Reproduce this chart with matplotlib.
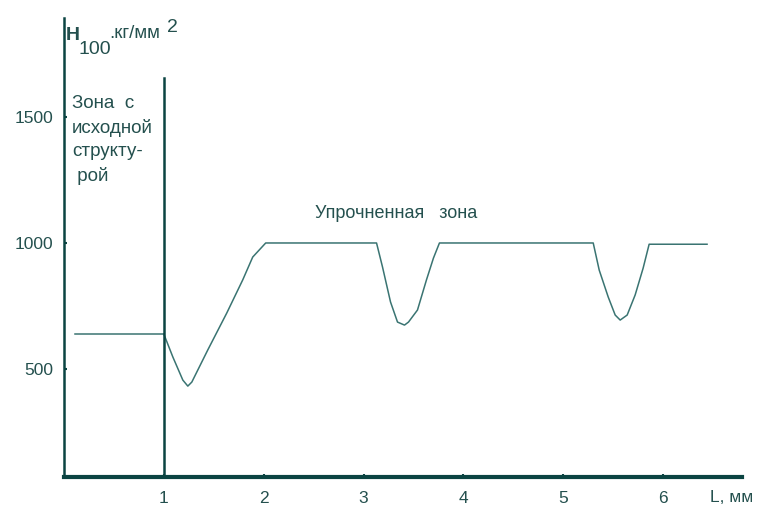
import matplotlib
matplotlib.use('Agg')
import matplotlib.pyplot as plt

# hardness profile across the treated layer
profile_x = [1.00, 1.09, 1.19, 1.24, 1.28, 1.36, 1.44, 1.63, 1.79, 1.89, 2.02,
             3.13, 3.19, 3.27, 3.34, 3.41, 3.45, 3.54, 3.63, 3.70, 3.76,
             5.30, 5.36, 5.45, 5.52, 5.57, 5.64, 5.72, 5.80, 5.86, 6.44]
profile_hv = [637, 546, 454, 430, 446, 510, 574, 721, 853, 944, 1000,
              1000, 904, 765, 685, 673, 685, 733, 853, 940, 1000,
              1000, 892, 785, 713, 693, 713, 793, 900, 995, 995]

# untreated zone level
base_x = [0.11, 1.0]
base_hv = [637, 637]

border_x = 1.0
border_top = 1657

x_ticks = [1, 2, 3, 4, 5, 6]
y_ticks = [500, 1000, 1500]

axis_col = '#0b4442'
line_col = '#3a7472'
text_col = '#24504e'
fam = ['Liberation Sans Narrow', 'Liberation Sans', 'DejaVu Sans']

W, H = 761, 508
fig = plt.figure(figsize=(W / 100, H / 100), dpi=100)
fig.patch.set_facecolor('white')
ax = fig.add_axes([64 / W, 31 / H, 678 / W, 459 / H])

ax.plot(profile_x, profile_hv, color=line_col, lw=1.1)
ax.plot(base_x, base_hv, color=line_col, lw=1.1)
ax.plot([border_x, border_x], [68, border_top], color=axis_col, lw=1.8)

ax.set_xlim(0, 6.79)
ax.set_ylim(68, 1896)
ax.set_xticks(x_ticks)
ax.set_yticks(y_ticks)
ax.set_xticklabels([str(t) for t in x_ticks], family=fam, fontsize=12.5, color=text_col)
ax.set_yticklabels([str(t) for t in y_ticks], family=fam, fontsize=12.5, color=text_col)
ax.tick_params(axis='x', direction='in', length=2, width=1.5, color=axis_col, pad=10)
ax.tick_params(axis='y', direction='in', length=2, width=1.5, color=axis_col, pad=8)

for s in ['top', 'right']:
    ax.spines[s].set_visible(False)
ax.spines['left'].set_color(axis_col)
ax.spines['left'].set_linewidth(1.8)
ax.spines['bottom'].set_color(axis_col)
ax.spines['bottom'].set_linewidth(3)


def px(x, y, s, size=13, **kw):
    fig.text(x / W, 1 - y / H, s, family=fam, fontsize=size, color=text_col,
             va='center', ha='left', **kw)


# axis title H_100, кг/мм^2
px(66, 36, 'H', size=14, fontweight='bold')
px(79, 49, '100', size=14)
px(109, 34, '.кг/мм', size=13.5)
px(167, 27, '2', size=14)

for i, line in enumerate(['Зона  с', 'исходной', 'структу-', ' рой']):
    px(72, 104 + i * 24, line, size=13.5)

px(315, 214, 'Упрочненная   зона', size=13)
px(710, 497, 'L, мм', size=12.5)

fig.savefig('out.png', dpi=100)
